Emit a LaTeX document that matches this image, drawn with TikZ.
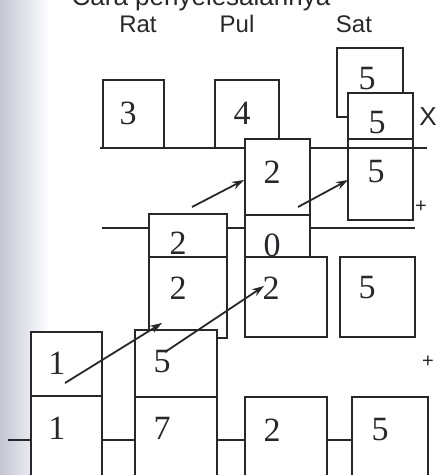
\documentclass[tikz,border=0pt]{standalone}
\usepackage{fontspec}
\setmainfont{Liberation Serif}
\newfontfamily\sansf{Liberation Sans}
\usetikzlibrary{arrows.meta}
\definecolor{ink}{RGB}{40,40,44}
\definecolor{scanedge}{RGB}{196,198,212}
\tikzset{
  bx/.style={draw=ink, line width=1.8pt, fill=white, inner sep=0pt, outer sep=0pt},
  num/.style={inner sep=0pt, font=\fontsize{34}{34}\selectfont, text=ink},
  lbl/.style={inner sep=0pt, anchor=base, font=\sansf\fontsize{24}{24}\selectfont, text=ink},
  sgn/.style={inner sep=0pt, font=\sansf\fontsize{20}{20}\selectfont, text=ink},
  wire/.style={draw=ink, line width=1.8pt},
  arr/.style={draw=ink, line width=1.8pt, -{Stealth[length=12pt,width=8pt]}}
}
\begin{document}
\begin{tikzpicture}[x=1pt,y=-1pt]
\useasboundingbox (0,0) rectangle (437,475);
\clip (0,0) rectangle (437,475);
\shade[left color=scanedge, right color=white, draw=none] (0,0) rectangle (50,475);
% title (cut off at top) and column labels
\node[lbl, font=\sansf\fontsize{26}{26}\selectfont] (title) at (201,5) {Cara penyelesaiannya};
\node[lbl] (rat) at (138,32) {Rat};
\node[lbl] (pul) at (237,32) {Pul};
\node[lbl] (sat) at (354,32) {Sat};
% top row
\node[bx, minimum width=61, minimum height=68] (box3) at (133.5,114) {};
\node[bx, minimum width=64, minimum height=68] (box4) at (247,114) {};
\node[bx, minimum width=66, minimum height=69] (satA) at (370,82.5) {};
\node[bx, minimum width=65, minimum height=46] (satB) at (380.5,116) {};
\node[bx, minimum width=65, minimum height=81] (satC) at (380.5,179.5) {};
\coordinate (l1a) at (100,148);
\coordinate (l1b) at (427,148);
\draw[wire] (l1a) -- (l1b);
\coordinate (l2a) at (102,228);
\coordinate (l2b) at (415,228);
\draw[wire] (l2a) -- (l2b);
% column 2 stack
\node[bx, minimum width=65, minimum height=76] (c2a) at (277.5,177) {};
\node[bx, minimum width=65, minimum height=75] (c2b) at (277.5,252.5) {};
% middle left stack
\node[bx, minimum width=78, minimum height=43] (mlA) at (188,235.5) {};
\node[bx, minimum width=78, minimum height=81] (mlB) at (188,297.5) {};
% middle row
\node[bx, minimum width=82, minimum height=80] (c2c) at (286,297) {};
\node[bx, minimum width=75, minimum height=80] (rt5) at (377.5,297) {};
% bottom rows
\node[bx, minimum width=71, minimum height=64] (b1a) at (66.5,364) {};
\node[bx, minimum width=71, minimum height=88] (b1b) at (66.5,440) {};
\node[bx, minimum width=82, minimum height=67] (b2a) at (176,363.5) {};
\node[bx, minimum width=82, minimum height=86] (b2b) at (176,440) {};
\node[bx, minimum width=82, minimum height=86] (b3) at (286,440) {};
\node[bx, minimum width=76, minimum height=86] (b4) at (390,440) {};
\coordinate (lneg) at (8,440);
\draw[wire] (lneg) -- (b1b.west);
\draw[wire] (b1b.east) -- (b2b.west);
\draw[wire] (b2b.east) -- (b3.west);
\draw[wire] (b3.east) -- (b4.west);
% numbers
\node[num] (t3) at (128,113) {3};
\node[num] (t4) at (242,113) {4};
\node[num] (tsA) at (367,79) {5};
\node[num] (tsB) at (377,123) {5};
\node[num] (tsC) at (376,172) {5};
\node[num] (tc2a) at (272,172) {2};
\node[num] (tc2b) at (272,245) {0};
\node[num] (tmlA) at (178,243) {2};
\node[num] (tmlB) at (178,288) {2};
\node[num] (tc2c) at (271,288) {2};
\node[num] (trt5) at (367,288) {5};
\node[num] (tb1a) at (57,363) {1};
\node[num] (tb1b) at (57,428) {1};
\node[num] (tb2a) at (162,362) {5};
\node[num] (tb2b) at (162,428) {7};
\node[num] (tb3) at (272,430) {2};
\node[num] (tb4) at (380,430) {5};
% signs
\node[sgn, font=\sansf\fontsize{26}{26}\selectfont] (sx) at (428,117) {X};
\node[sgn] (sp1) at (421,207) {+};
\node[sgn] (sp2) at (428,362) {+};
% arrows
\coordinate (a1s) at (192,207);
\coordinate (a1e) at (244,180);
\coordinate (a2s) at (298,207);
\coordinate (a2e) at (348,180);
\coordinate (a3s) at (65,383);
\coordinate (a3e) at (162,323);
\coordinate (a4s) at (165,352);
\coordinate (a4e) at (264,286);
\draw[arr] (a1s) -- (a1e);
\draw[arr] (a2s) -- (a2e);
\draw[arr] (a3s) -- (a3e);
\draw[arr] (a4s) -- (a4e);
\end{tikzpicture}
\end{document}
